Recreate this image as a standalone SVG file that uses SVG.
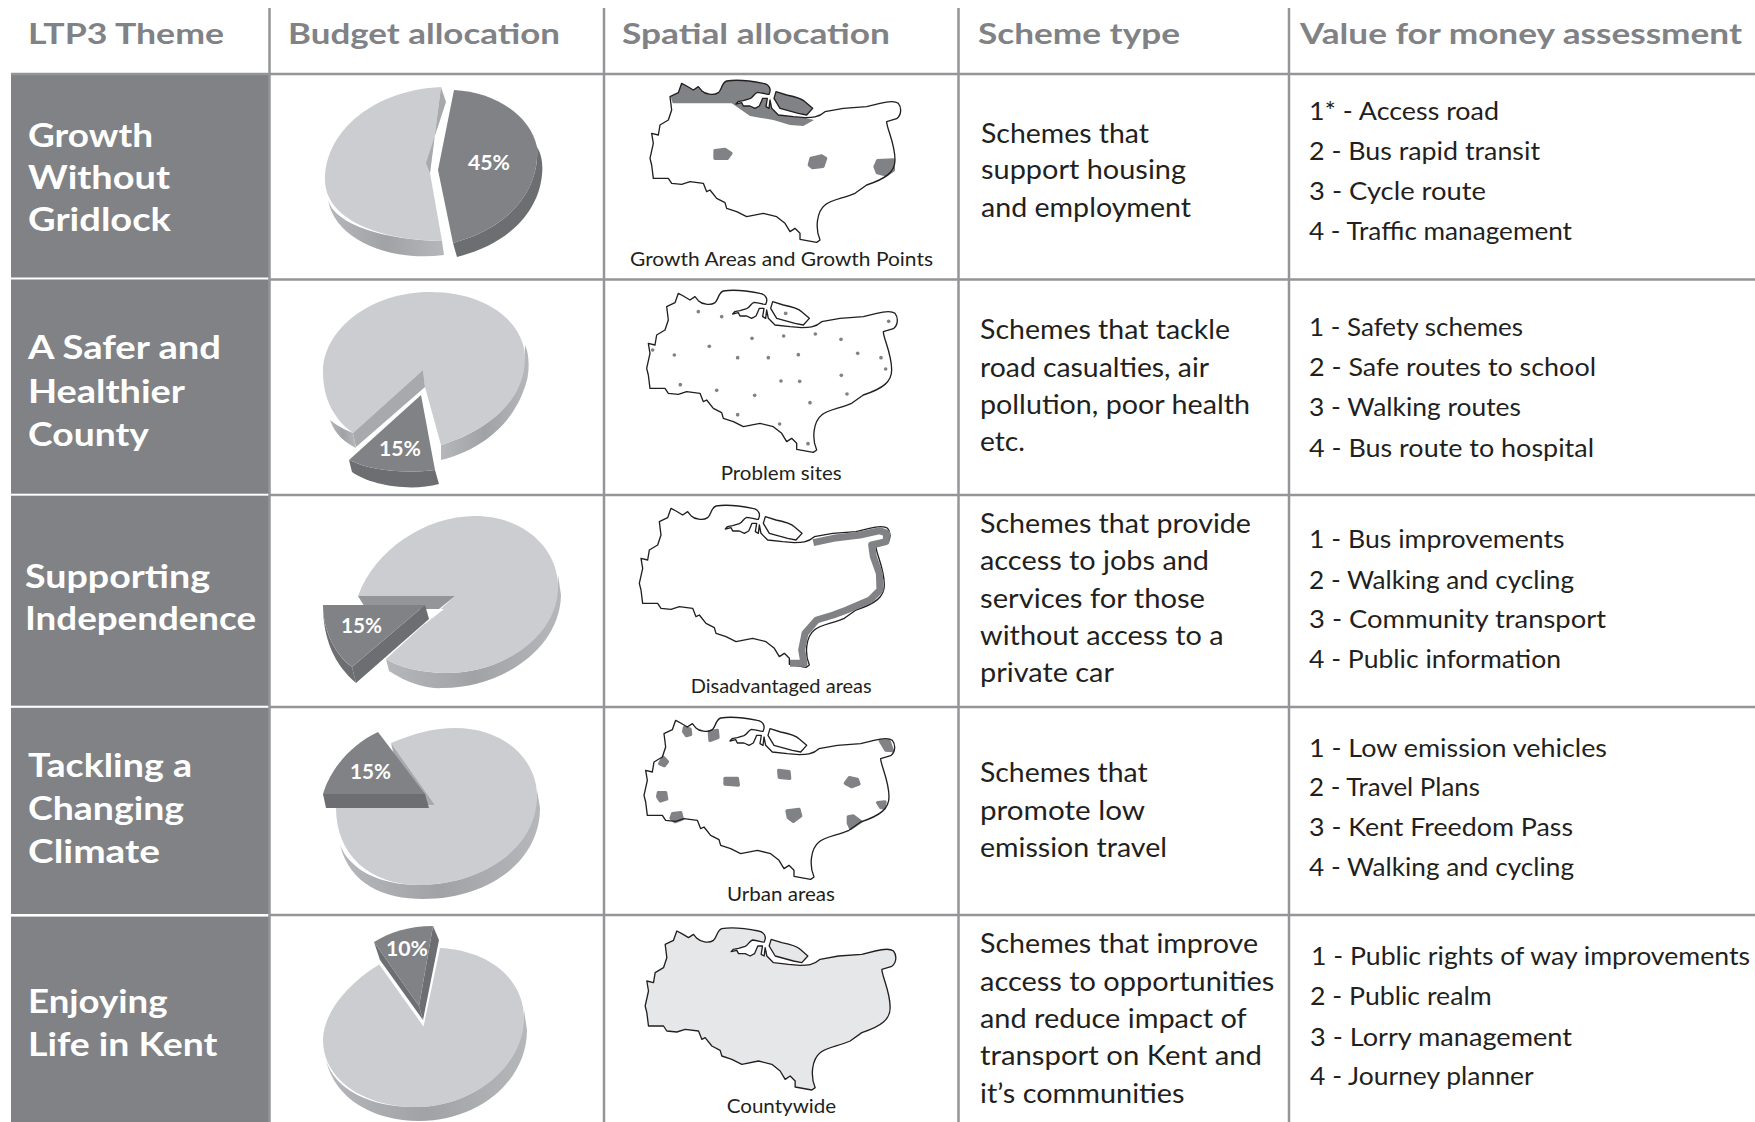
<svg xmlns="http://www.w3.org/2000/svg" width="1755" height="1122" viewBox="0 0 1755 1122">
<style>
text{font-family:"Lato","Noto Sans","Liberation Sans",sans-serif}
.h{font-size:28px;font-weight:700;fill:#808285}
.t{font-size:32px;font-weight:700;fill:#fff}
.s{font-size:27px;fill:#231f20}
.v{font-size:25px;fill:#231f20}
.c{font-size:20px;fill:#231f20}
.p{font-size:20px;font-weight:700;fill:#fff}
.band{fill:#808285}
.grid{stroke:#939598;stroke-width:2.5;fill:none}
.lt{fill:#cbcdd0}
.ls{fill:url(#side)}
.lw{fill:#a7a9ac}
.dt{fill:#808285}
.ds{fill:#6d6e71}
.o{fill:none;stroke:#231f20;stroke-width:4;stroke-linejoin:round}
.a{fill:#808285}
.spot{fill:#808285;stroke:#808285;stroke-width:10;stroke-linejoin:round}
</style>
<defs>
<linearGradient id="side" x1="0" x2="1" y1="0" y2="0"><stop offset="0" stop-color="#b5b7ba"/><stop offset=".5" stop-color="#a0a2a5"/><stop offset="1" stop-color="#b5b7ba"/></linearGradient>
<path id="kent" d="M235,700 L250,708 L270,720 L285,710 L295,722 C305,732 330,738 345,728 C355,720 355,698 370,693 C400,688 450,694 480,700 C498,703 505,718 497,733 C490,735 480,728 462,727 C452,730 450,742 440,746 L420,752 L404,755 L398,762 L415,758 L420,768 L440,768 L455,775 L468,768 L475,752 L478,745 L492,745 L488,770 L497,775 L500,750 L505,775 L525,795 L570,800 L605,803 C625,803 645,803 665,785 L720,775 L790,770 L830,760 C850,755 875,752 885,760 C895,772 895,795 880,806 L850,815 C850,835 875,880 875,930 C875,965 850,985 790,1005 L755,1030 C720,1045 680,1050 665,1065 C640,1085 635,1135 650,1170 L640,1177 L590,1168 L590,1150 L575,1135 L560,1145 L545,1120 L520,1100 L480,1090 L430,1100 L400,1085 L370,1075 L365,1058 L340,1045 L320,1020 L310,1025 L300,1000 L260,995 L235,1003 L205,1000 L195,985 L150,985 L145,945 L140,925 L150,880 L145,850 L165,855 L170,825 L195,810 L205,780 L200,740 L225,728 Z M518,725 L550,735 C575,740 595,745 605,755 L628,775 L610,795 L585,790 L530,775 L512,745 Z"/>
</defs>
<rect width="1755" height="1122" fill="#fff"/>

<g id="theme-bands">
<rect class="band" x="11" y="73" width="258" height="204.5"/>
<rect class="band" x="11" y="279.5" width="258" height="214.2"/>
<rect class="band" x="11" y="495.7" width="258" height="210"/>
<rect class="band" x="11" y="707.8" width="258" height="206.2"/>
<rect class="band" x="11" y="916.6" width="258" height="205.4"/>
</g>

<g id="grid" class="grid">
<path d="M11,74H1755M269,279.5H1755M269,495H1755M269,707H1755M269,915H1755"/>
<path d="M269.5,8V1122M604,8V1122M958.5,8V1122M1289,8V1122"/>
</g>

<g id="header">
<text class="h" x="28" y="44" textLength="196" lengthAdjust="spacingAndGlyphs">LTP3 Theme</text>
<text class="h" x="288" y="44" textLength="272" lengthAdjust="spacingAndGlyphs">Budget allocation</text>
<text class="h" x="622" y="44" textLength="268" lengthAdjust="spacingAndGlyphs">Spatial allocation</text>
<text class="h" x="978" y="44" textLength="202" lengthAdjust="spacingAndGlyphs">Scheme type</text>
<text class="h" x="1300" y="44" textLength="442" lengthAdjust="spacingAndGlyphs">Value for money assessment</text>
</g>

<g id="row1">
<g id="theme1">
<text class="t" x="28" y="147" textLength="125" lengthAdjust="spacingAndGlyphs">Growth</text>
<text class="t" x="28" y="189" textLength="142" lengthAdjust="spacingAndGlyphs">Without</text>
<text class="t" x="28" y="231" textLength="143" lengthAdjust="spacingAndGlyphs">Gridlock</text>
</g>
<g id="pie1">
<path class="ls" d="M328,200 C335,240 390,262 444,255 L442,241 C385,240 335,225 328,200Z"/>
<path class="lt" d="M441,87 C375,90 325,130 325,180 C325,215 370,240 442,241 L430,173Z"/>
<path class="lw" d="M441,87 L446,102 L426,163 L430,173Z"/>
<path class="ds" d="M537,147 C542,155 543,165 542,175 C538,215 505,245 457,257 L453,243 C510,228 540,190 537,147Z"/>
<path class="dt" d="M454,90 C495,92 530,115 537,147 C540,190 510,228 453,243 L438,170Z"/>
<text class="p" x="468" y="170" textLength="42" lengthAdjust="spacingAndGlyphs">45%</text>
</g>
<g id="map1" transform="translate(600,60) scale(.33333)">
<path class="a" d="M245,70 L260,78 L280,90 L295,80 L305,92 C315,102 340,108 355,98 C365,90 365,68 380,63 C410,58 460,64 490,70 C508,73 515,88 507,103 C500,105 490,98 472,97 C462,100 460,112 450,116 L430,122 L414,125 L408,132 L425,128 L430,138 L450,138 L465,145 L478,138 L485,122 L488,115 L502,115 L498,140 L507,145 L510,120 L515,145 L535,165 L580,170 L615,173 L642,180 L610,198 L570,195 L520,180 L450,168 L395,130 L218,130 L212,110 L235,98Z"/>
<path class="a" d="M528,95 L560,105 C585,110 605,115 615,125 L638,145 L620,165 L595,160 L540,145 L522,115Z"/>
<path class="spot" d="M345,272 L375,268 L393,280 L382,295 L345,295Z"/>
<path class="spot" d="M633,295 L665,288 L677,295 L669,319 L638,323 L628,315Z"/>
<path class="spot" d="M833,302 L880,300 L880,330 L858,345 L832,338 L825,320Z"/>
<use href="#kent" class="o" x="10" y="-630"/>
</g>
<text class="c" x="630" y="266" textLength="303" lengthAdjust="spacingAndGlyphs">Growth Areas and Growth Points</text>
<g id="scheme1">
<text class="s" x="981" y="142.7" textLength="168" lengthAdjust="spacingAndGlyphs">Schemes that</text>
<text class="s" x="981" y="179" textLength="205" lengthAdjust="spacingAndGlyphs">support housing</text>
<text class="s" x="981" y="216.7" textLength="210" lengthAdjust="spacingAndGlyphs">and employment</text>
</g>
<g id="value1">
<text class="v" x="1309" y="119.8" textLength="190" lengthAdjust="spacingAndGlyphs">1* - Access road</text>
<text class="v" x="1309" y="160" textLength="231" lengthAdjust="spacingAndGlyphs">2 - Bus rapid transit</text>
<text class="v" x="1309" y="199.6" textLength="177" lengthAdjust="spacingAndGlyphs">3 - Cycle route</text>
<text class="v" x="1309" y="240" textLength="263" lengthAdjust="spacingAndGlyphs">4 - Traffic management</text>
</g>
</g>

<g id="row2">
<g id="theme2">
<text class="t" x="28" y="359" textLength="193" lengthAdjust="spacingAndGlyphs">A Safer and</text>
<text class="t" x="28" y="403" textLength="157" lengthAdjust="spacingAndGlyphs">Healthier</text>
<text class="t" x="28" y="446" textLength="121" lengthAdjust="spacingAndGlyphs">County</text>
</g>
<g id="pie2">
<path class="ls" d="M330,420 C335,435 345,442 356,448 L353,433 C340,428 333,422 330,420Z"/>
<path class="ls" d="M525,345 C530,355 529,372 527,380 C515,425 480,450 441,460 L441,445 C490,430 525,400 525,345Z"/>
<path class="lt" d="M423,370 L353,433 C335,420 323,400 323,372 C323,330 370,292 430,292 C490,292 525,325 525,358 C525,400 490,430 441,445 L425,387Z"/>
<path class="lw" d="M423,370 L353,433 L356,447 L425,387Z"/>
<path class="ds" d="M349,460 L352,472 C370,485 410,492 439,484 L435,470 C400,474 370,470 349,460Z"/>
<path class="dt" d="M421,395 L349,460 C370,470 400,474 435,470Z"/>
<text class="p" x="379" y="456" textLength="42" lengthAdjust="spacingAndGlyphs">15%</text>
</g>
<g id="map2" transform="translate(600,60) scale(.33333)">
<g class="a">
<circle r="5.5" cx="295" cy="755"/><circle r="5.5" cx="365" cy="770"/><circle r="5.5" cx="557" cy="760"/><circle r="5.5" cx="866" cy="784"/><circle r="5.5" cx="456" cy="835"/><circle r="5.5" cx="551" cy="828"/><circle r="5.5" cx="646" cy="822"/><circle r="5.5" cx="723" cy="838"/><circle r="5.5" cx="328" cy="859"/><circle r="5.5" cx="158" cy="870"/><circle r="5.5" cx="223" cy="885"/><circle r="5.5" cx="413" cy="893"/><circle r="5.5" cx="505" cy="893"/><circle r="5.5" cx="595" cy="884"/><circle r="5.5" cx="773" cy="880"/><circle r="5.5" cx="843" cy="893"/><circle r="5.5" cx="857" cy="927"/><circle r="5.5" cx="724" cy="946"/><circle r="5.5" cx="543" cy="963"/><circle r="5.5" cx="599" cy="964"/><circle r="5.5" cx="241" cy="974"/><circle r="5.5" cx="350" cy="991"/><circle r="5.5" cx="464" cy="1006"/><circle r="5.5" cx="741" cy="1002"/><circle r="5.5" cx="630" cy="1028"/><circle r="5.5" cx="413" cy="1064"/><circle r="5.5" cx="539" cy="1092"/><circle r="5.5" cx="624" cy="1151"/>
</g>
<use href="#kent" class="o"/>
</g>
<text class="c" x="720.7" y="479.7" textLength="121" lengthAdjust="spacingAndGlyphs">Problem sites</text>
<g id="scheme2">
<text class="s" x="980" y="339" textLength="250" lengthAdjust="spacingAndGlyphs">Schemes that tackle</text>
<text class="s" x="980" y="377" textLength="229" lengthAdjust="spacingAndGlyphs">road casualties, air</text>
<text class="s" x="980" y="414.3" textLength="270" lengthAdjust="spacingAndGlyphs">pollution, poor health</text>
<text class="s" x="980" y="451.2" textLength="45" lengthAdjust="spacingAndGlyphs">etc.</text>
</g>
<g id="value2">
<text class="v" x="1309" y="336" textLength="214" lengthAdjust="spacingAndGlyphs">1 - Safety schemes</text>
<text class="v" x="1309" y="376" textLength="287" lengthAdjust="spacingAndGlyphs">2 - Safe routes to school</text>
<text class="v" x="1309" y="416" textLength="212" lengthAdjust="spacingAndGlyphs">3 - Walking routes</text>
<text class="v" x="1309" y="457" textLength="285" lengthAdjust="spacingAndGlyphs">4 - Bus route to hospital</text>
</g>
</g>

<g id="row3">
<g id="theme3">
<text class="t" x="25" y="587.6" textLength="185" lengthAdjust="spacingAndGlyphs">Supporting</text>
<text class="t" x="25" y="630" textLength="231" lengthAdjust="spacingAndGlyphs">Independence</text>
</g>
<g id="pie3">
<path class="ls" d="M386,659 L389,671 C410,685 430,689 443,688 C500,688 560,650 561,595 L558,575 C558,640 500,673 447,673 C425,673 400,668 386,659Z"/>
<path class="lt" d="M358,596 C375,550 425,516 475,516 C525,516 560,550 558,590 C555,640 500,673 447,673 C425,673 400,668 386,659 L455,596Z"/>
<path d="M358,596 H455 L439,609 H366Z" fill="#939598"/>
<path d="M429,609 H444 L425,624Z" fill="#fff"/>
<path class="ds" d="M323,605 C323,640 335,665 356,683 L352,667 C335,655 323,630 323,605Z"/>
<path class="ds" d="M425,605 L429,619 L356,683 L352,667Z"/>
<path class="dt" d="M323,605 H425 L352,667 C335,655 323,630 323,605Z"/>
<text class="p" x="341" y="633" textLength="41" lengthAdjust="spacingAndGlyphs">15%</text>
</g>
<g id="map3" transform="translate(600,490) scale(.33333)">
<use href="#kent" class="o" x="-22" y="-645"/>
<path d="M640,158 L700,145 L780,135 L840,122 L860,130 L858,155 L815,165 L820,200 L838,250 L840,300 L810,330 L740,360 L700,375 L650,390 L615,430 L605,480 L612,520 L570,520" fill="none" stroke="#808285" stroke-width="21" stroke-linejoin="round"/>
</g>
<text class="c" x="690.7" y="693" textLength="181" lengthAdjust="spacingAndGlyphs">Disadvantaged areas</text>
<g id="scheme3">
<text class="s" x="980" y="532.7" textLength="271" lengthAdjust="spacingAndGlyphs">Schemes that provide</text>
<text class="s" x="980" y="570" textLength="229" lengthAdjust="spacingAndGlyphs">access to jobs and</text>
<text class="s" x="980" y="608" textLength="225" lengthAdjust="spacingAndGlyphs">services for those</text>
<text class="s" x="980" y="645" textLength="243.6" lengthAdjust="spacingAndGlyphs">without access to a</text>
<text class="s" x="980" y="682" textLength="134" lengthAdjust="spacingAndGlyphs">private car</text>
</g>
<g id="value3">
<text class="v" x="1309" y="548" textLength="255.5" lengthAdjust="spacingAndGlyphs">1 - Bus improvements</text>
<text class="v" x="1309" y="589" textLength="265" lengthAdjust="spacingAndGlyphs">2 - Walking and cycling</text>
<text class="v" x="1309" y="628" textLength="297" lengthAdjust="spacingAndGlyphs">3 - Community transport</text>
<text class="v" x="1309" y="668" textLength="252" lengthAdjust="spacingAndGlyphs">4 - Public information</text>
</g>
</g>

<g id="row4">
<g id="theme4">
<text class="t" x="28" y="777" textLength="164" lengthAdjust="spacingAndGlyphs">Tackling a</text>
<text class="t" x="28" y="820" textLength="156" lengthAdjust="spacingAndGlyphs">Changing</text>
<text class="t" x="28" y="862.5" textLength="132" lengthAdjust="spacingAndGlyphs">Climate</text>
</g>
<g id="pie4">
<path class="ls" d="M340,845 C350,885 385,899 423,899 C490,899 540,860 540,808 L537,790 C537,850 480,885 419,885 C380,885 350,870 340,845Z"/>
<path class="lt" d="M391,743 C415,733 435,728 455,728 C505,728 537,760 537,796 C537,850 480,885 419,885 C370,885 336,855 336,808 L435,805Z"/>
<path class="lw" d="M391,743 L435,805 H425 L395,760Z"/>
<path class="ds" d="M323,794 L326,808 H429 L425,794Z"/>
<path class="dt" d="M378,732 L425,794 H323 C330,770 350,745 378,732Z"/>
<text class="p" x="350" y="779" textLength="41" lengthAdjust="spacingAndGlyphs">15%</text>
</g>
<g id="map4" transform="translate(600,490) scale(.33333)">
<g>
<path class="spot" d="M253,713 L270,717 L272,733 L259,737 L251,725Z"/>
<path class="spot" d="M328,725 L352,721 L354,742 L330,751Z"/>
<path class="spot" d="M190,802 L202,815 L193,827 L179,821Z"/>
<path class="spot" d="M375,865 L412,865 L415,885 L375,882Z"/>
<path class="spot" d="M536,841 L567,845 L569,865 L538,862Z"/>
<path class="spot" d="M748,863 L772,868 L777,882 L755,890 L736,880Z"/>
<path class="spot" d="M175,908 L197,908 L200,927 L181,933 L173,920Z"/>
<path class="spot" d="M218,971 L242,968 L247,987 L225,995 L213,985Z"/>
<path class="spot" d="M561,963 L597,958 L602,978 L580,994 L565,983Z"/>
<path class="spot" d="M745,981 L760,978 L782,995 L752,1015 L745,1000Z"/>
<path class="spot" d="M833,938 L855,936 L853,954 L842,952Z"/>
<path class="spot" d="M841,753 L867,753 L877,782 L857,780Z"/>
</g>
<use href="#kent" class="o" x="-8" y="-9"/>
</g>
<text class="c" x="727" y="900.7" textLength="108" lengthAdjust="spacingAndGlyphs">Urban areas</text>
<g id="scheme4">
<text class="s" x="980" y="781.7" textLength="167.6" lengthAdjust="spacingAndGlyphs">Schemes that</text>
<text class="s" x="980" y="819.6" textLength="165" lengthAdjust="spacingAndGlyphs">promote low</text>
<text class="s" x="980" y="856.7" textLength="187" lengthAdjust="spacingAndGlyphs">emission travel</text>
</g>
<g id="value4">
<text class="v" x="1309" y="756.7" textLength="298" lengthAdjust="spacingAndGlyphs">1 - Low emission vehicles</text>
<text class="v" x="1309" y="796.4" textLength="171" lengthAdjust="spacingAndGlyphs">2 - Travel Plans</text>
<text class="v" x="1309" y="836.4" textLength="264" lengthAdjust="spacingAndGlyphs">3 - Kent Freedom Pass</text>
<text class="v" x="1309" y="876.2" textLength="265" lengthAdjust="spacingAndGlyphs">4 - Walking and cycling</text>
</g>
</g>

<g id="row5">
<g id="theme5">
<text class="t" x="28" y="1013" textLength="139.5" lengthAdjust="spacingAndGlyphs">Enjoying</text>
<text class="t" x="28" y="1056" textLength="189.5" lengthAdjust="spacingAndGlyphs">Life in Kent</text>
</g>
<g id="pie5">
<path class="ls" d="M326,1060 C335,1100 375,1121 419,1121 C480,1121 527,1080 527,1030 L524,1010 C524,1065 475,1107 415,1107 C370,1107 335,1090 326,1060Z"/>
<path class="lt" d="M423,1024 L380,964 C345,985 323,1015 323,1040 C323,1080 365,1107 415,1107 C475,1107 524,1065 524,1018 C524,980 490,950 439,948Z"/>
<path d="M380,964 L423,1024 L439,948" fill="none" stroke="#fff" stroke-width="2"/>
<path class="ds" d="M433,926 L439,940 L423,1020 L419,1006Z"/>
<path class="ds" d="M374,942 L380,960 L423,1020 L419,1006Z"/>
<path class="dt" d="M374,942 C390,932 410,926 433,926 L419,1006Z"/>
<text class="p" x="386" y="956" textLength="42" lengthAdjust="spacingAndGlyphs">10%</text>
</g>
<g id="map5" transform="translate(600,900) scale(.33333)">
<use href="#kent" class="o" x="-4.5" y="-607" style="fill:#e6e7e8"/>
</g>
<text class="c" x="726.7" y="1113" textLength="109.5" lengthAdjust="spacingAndGlyphs">Countywide</text>
<g id="scheme5">
<text class="s" x="980" y="952.7" textLength="278" lengthAdjust="spacingAndGlyphs">Schemes that improve</text>
<text class="s" x="980" y="991" textLength="294.4" lengthAdjust="spacingAndGlyphs">access to opportunities</text>
<text class="s" x="980" y="1027.7" textLength="266.7" lengthAdjust="spacingAndGlyphs">and reduce impact of</text>
<text class="s" x="980" y="1065" textLength="282" lengthAdjust="spacingAndGlyphs">transport on Kent and</text>
<text class="s" x="980" y="1102.7" textLength="204.6" lengthAdjust="spacingAndGlyphs">it’s communities</text>
</g>
<g id="value5">
<text class="v" x="1311" y="964.6" textLength="439" lengthAdjust="spacingAndGlyphs">1 - Public rights of way improvements</text>
<text class="v" x="1310" y="1004.5" textLength="181.6" lengthAdjust="spacingAndGlyphs">2 - Public realm</text>
<text class="v" x="1310" y="1046" textLength="262" lengthAdjust="spacingAndGlyphs">3 - Lorry management</text>
<text class="v" x="1310" y="1085" textLength="223.7" lengthAdjust="spacingAndGlyphs">4 - Journey planner</text>
</g>
</g>
</svg>
